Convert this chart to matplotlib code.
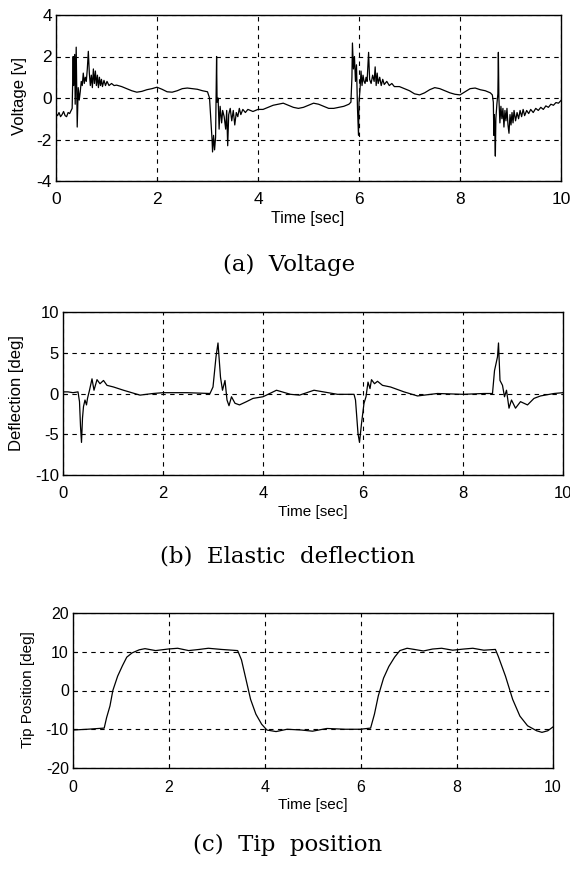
import matplotlib
matplotlib.use("Agg")
import matplotlib.pyplot as plt

# voltage [v]
volt_t = [0.00, 0.03, 0.06, 0.09, 0.12, 0.15, 0.18, 0.21, 0.24, 0.27, 0.30, 0.32,
          0.34, 0.35, 0.37, 0.38, 0.40, 0.42, 0.44, 0.46, 0.48, 0.50, 0.52, 0.54,
          0.56, 0.58, 0.60, 0.62, 0.64, 0.66, 0.68, 0.70, 0.72, 0.74, 0.76, 0.78,
          0.80, 0.82, 0.84, 0.86, 0.88, 0.90, 0.92, 0.95, 0.98, 1.01, 1.05, 1.10,
          1.15, 1.20, 1.30, 1.40, 1.50, 1.60, 1.70, 1.80, 1.90, 2.00, 2.10, 2.20,
          2.30, 2.40, 2.50, 2.60, 2.70, 2.80, 2.90, 3.00, 3.04, 3.07, 3.09, 3.10,
          3.12, 3.14, 3.16, 3.18, 3.19, 3.21, 3.23, 3.25, 3.28, 3.30, 3.33, 3.36,
          3.38, 3.40, 3.42, 3.45, 3.48, 3.51, 3.54, 3.57, 3.60, 3.63, 3.66, 3.70,
          3.75, 3.80, 3.85, 3.90, 4.00, 4.10, 4.20, 4.30, 4.40, 4.50, 4.60, 4.70,
          4.80, 4.90, 5.00, 5.10, 5.20, 5.30, 5.40, 5.50, 5.60, 5.70, 5.80, 5.84,
          5.86, 5.87, 5.89, 5.91, 5.93, 5.95, 5.97, 5.99, 6.00, 6.02, 6.04, 6.06,
          6.08, 6.10, 6.12, 6.14, 6.16, 6.19, 6.21, 6.24, 6.27, 6.30, 6.32, 6.34,
          6.36, 6.38, 6.41, 6.44, 6.47, 6.50, 6.55, 6.60, 6.65, 6.70, 6.80, 6.90,
          7.00, 7.10, 7.20, 7.30, 7.40, 7.50, 7.60, 7.70, 7.80, 7.90, 8.00, 8.10,
          8.20, 8.30, 8.40, 8.50, 8.60, 8.64, 8.66, 8.67, 8.68, 8.69, 8.70, 8.71,
          8.73, 8.75, 8.76, 8.77, 8.79, 8.81, 8.83, 8.85, 8.87, 8.89, 8.91, 8.93,
          8.95, 8.97, 8.99, 9.01, 9.03, 9.05, 9.07, 9.10, 9.13, 9.16, 9.19, 9.22,
          9.25, 9.28, 9.32, 9.36, 9.40, 9.45, 9.50, 9.55, 9.60, 9.65, 9.70, 9.75,
          9.80, 9.85, 9.90, 9.95, 10.0]
volt_v = [-0.75, -0.85, -0.70, -0.90, -0.80, -0.65, -0.85, -0.90, -0.70, -0.75, -0.60, -0.50,
          2.00, 0.60, 2.10, -0.30, 2.45, -1.40, 0.50, -0.10, 0.30, 0.80, 0.60, 1.20,
          0.70, 1.00, 0.80, 1.40, 2.25, 1.20, 0.60, 1.10, 0.50, 1.40, 0.70, 1.30,
          0.60, 1.10, 0.50, 1.00, 0.60, 0.90, 0.55, 0.85, 0.60, 0.80, 0.60, 0.70,
          0.60, 0.62, 0.55, 0.45, 0.35, 0.28, 0.32, 0.40, 0.45, 0.52, 0.42, 0.30,
          0.28, 0.35, 0.45, 0.48, 0.45, 0.42, 0.35, 0.30, 0.00, -1.20, -2.00, -2.60,
          -1.80, -2.50, -1.90, 2.00, -0.20, 0.00, -1.50, -0.40, -1.20, -0.60, -0.90, -1.50,
          -0.60, -2.30, -0.80, -0.50, -1.10, -0.60, -1.30, -0.70, -0.90, -0.50, -0.80, -0.55,
          -0.70, -0.55, -0.60, -0.65, -0.55, -0.55, -0.45, -0.35, -0.30, -0.25, -0.35, -0.45,
          -0.50, -0.45, -0.35, -0.25, -0.30, -0.40, -0.50, -0.50, -0.45, -0.40, -0.30, -0.20,
          1.00, 2.65, 1.40, 2.00, 0.80, 1.60, -0.50, -1.80, -0.20, 0.40, 1.30, 0.60,
          1.10, 0.80, 0.70, 1.00, 0.80, 2.20, 0.90, 0.70, 1.10, 0.80, 1.50, 0.60,
          1.20, 0.70, 1.00, 0.60, 0.90, 0.65, 0.80, 0.60, 0.70, 0.55, 0.55, 0.45,
          0.35, 0.20, 0.15, 0.25, 0.40, 0.50, 0.45, 0.35, 0.25, 0.18, 0.15, 0.30,
          0.45, 0.48, 0.40, 0.35, 0.25, 0.15, -0.20, -1.80, -0.80, -1.60, -2.80, -1.00,
          -0.30, 0.20, 2.20, 0.00, -1.20, -0.40, -1.00, -0.50, -1.40, -0.60, -1.10, -0.50,
          -1.30, -1.70, -0.80, -1.30, -0.70, -1.20, -0.60, -1.10, -0.70, -1.00, -0.60, -0.90,
          -0.55, -0.85, -0.60, -0.75, -0.55, -0.70, -0.50, -0.60, -0.45, -0.55, -0.38, -0.45,
          -0.30, -0.35, -0.22, -0.25, -0.12]

# elastic deflection [deg]
defl_t = [0.00, 0.10, 0.20, 0.30, 0.33, 0.35, 0.37, 0.39, 0.41, 0.44, 0.47, 0.49,
          0.53, 0.58, 0.62, 0.68, 0.74, 0.81, 0.88, 1.01, 1.21, 1.54, 1.80, 2.00,
          2.48, 2.94, 3.00, 3.06, 3.10, 3.15, 3.19, 3.24, 3.28, 3.32, 3.37, 3.44,
          3.53, 3.67, 3.80, 4.00, 4.27, 4.55, 4.73, 5.02, 5.49, 5.82, 5.85, 5.90,
          5.93, 5.97, 6.02, 6.06, 6.10, 6.14, 6.17, 6.23, 6.29, 6.39, 6.55, 6.82,
          7.09, 7.49, 8.00, 8.42, 8.59, 8.63, 8.69, 8.71, 8.74, 8.79, 8.83, 8.87,
          8.92, 8.97, 9.05, 9.15, 9.29, 9.42, 9.55, 9.82, 10.0]
defl_v = [0.2, 0.2, 0.1, 0.2, -1.0, -4.0, -6.0, -3.0, -1.6, -0.8, -1.4, -0.6,
          0.4, 1.8, 0.4, 1.7, 1.2, 1.6, 1.0, 0.8, 0.4, -0.2, 0.0, 0.1,
          0.1, 0.0, 0.8, 4.5, 6.2, 2.0, 0.4, 1.6, -0.8, -1.5, -0.4, -1.2,
          -1.4, -1.0, -0.6, -0.4, 0.4, -0.1, -0.2, 0.4, -0.1, -0.1, -0.8, -4.9,
          -6.0, -3.7, -1.2, -0.4, 1.4, 0.6, 1.7, 1.2, 1.5, 1.0, 0.8, 0.2,
          -0.3, 0.0, -0.1, 0.0, 0.0, 2.8, 4.5, 6.2, 1.6, 1.0, -0.4, 0.4,
          -1.8, -0.8, -1.8, -1.0, -1.4, -0.6, -0.3, 0.0, 0.1]

# tip position [deg]
tip_t = [0.00, 0.30, 0.65, 0.70, 0.77, 0.83, 0.93, 1.03, 1.12, 1.23, 1.38, 1.50,
         1.72, 1.98, 2.18, 2.41, 2.63, 2.82, 3.09, 3.43, 3.51, 3.62, 3.70, 3.81,
         3.93, 4.04, 4.23, 4.46, 4.76, 4.99, 5.29, 5.67, 5.98, 6.20, 6.28, 6.36,
         6.47, 6.58, 6.70, 6.81, 6.96, 7.11, 7.30, 7.49, 7.68, 7.91, 8.14, 8.33,
         8.56, 8.80, 8.86, 9.01, 9.16, 9.31, 9.47, 9.66, 9.77, 9.89, 10.0]
tip_v = [-10.2, -10.0, -9.7, -7.0, -4.0, 0.0, 3.7, 6.4, 8.6, 9.7, 10.5, 10.8,
         10.3, 10.7, 10.9, 10.3, 10.6, 10.9, 10.6, 10.3, 7.9, 2.0, -2.3, -6.1,
         -8.7, -10.2, -10.6, -10.0, -10.2, -10.5, -9.8, -10.0, -10.0, -9.7, -6.1, -1.4,
         3.2, 6.2, 8.6, 10.3, 10.9, 10.6, 10.2, 10.7, 10.9, 10.4, 10.7, 10.9,
         10.4, 10.6, 8.8, 3.7, -2.3, -6.6, -9.1, -10.4, -10.8, -10.4, -9.4]

W, H = 570, 876

def px(x, y):
    return x / W, 1 - y / H

def box(l, t, r, b):
    return [l / W, 1 - b / H, (r - l) / W, (b - t) / H]

plt.rcParams["font.family"] = ["Liberation Sans", "DejaVu Sans"]
plt.rcParams["axes.unicode_minus"] = False

fig = plt.figure(figsize=(5.7, 8.76), dpi=100)

panels = [
    (box(56, 15, 561, 181), volt_t, volt_v, (-4, 4), [-4, -2, 0, 2, 4], 12.5, 8),
    (box(63, 312, 563, 475), defl_t, defl_v, (-10, 10), [-10, -5, 0, 5, 10], 12, 8),
    (box(73, 613, 553, 768), tip_t, tip_v, (-20, 20), [-20, -10, 0, 10, 20], 11.5, 9),
]
for rect, t, v, ylim, yt, fs, xpad in panels:
    ax = fig.add_axes(rect)
    ax.plot(t, v, color="black", lw=0.9)
    ax.set_xlim(0, 10)
    ax.set_ylim(*ylim)
    ax.set_xticks([0, 2, 4, 6, 8, 10])
    ax.set_yticks(yt)
    ax.grid(True, color="black", linestyle=(0, (4, 4)), linewidth=0.8)
    ax.tick_params(direction="in", length=3, labelsize=fs, width=0.8)
    ax.tick_params(axis="x", pad=xpad)
    ax.tick_params(axis="y", pad=3)
    for s in ax.spines.values():
        s.set_linewidth(1.0)

# axis labels
fig.text(*px(20, 96), "Voltage [v]", rotation=90, ha="center", va="center", fontsize=12)
fig.text(*px(17, 393), "Deflection [deg]", rotation=90, ha="center", va="center", fontsize=12)
fig.text(*px(28, 690), "Tip Position [deg]", rotation=90, ha="center", va="center", fontsize=11)
fig.text(*px(308, 218), "Time [sec]", ha="center", va="center", fontsize=11.5)
fig.text(*px(313, 512), "Time [sec]", ha="center", va="center", fontsize=11)
fig.text(*px(313, 805), "Time [sec]", ha="center", va="center", fontsize=11)

# captions
cap = dict(ha="center", va="center", fontsize=16.5, family=["DejaVu Serif"])
fig.text(*px(289, 265), "(a)  Voltage", **cap)
fig.text(*px(288, 557), "(b)  Elastic  deflection", **cap)
fig.text(*px(288, 845), "(c)  Tip  position", **cap)

fig.savefig("out.png", dpi=100)
